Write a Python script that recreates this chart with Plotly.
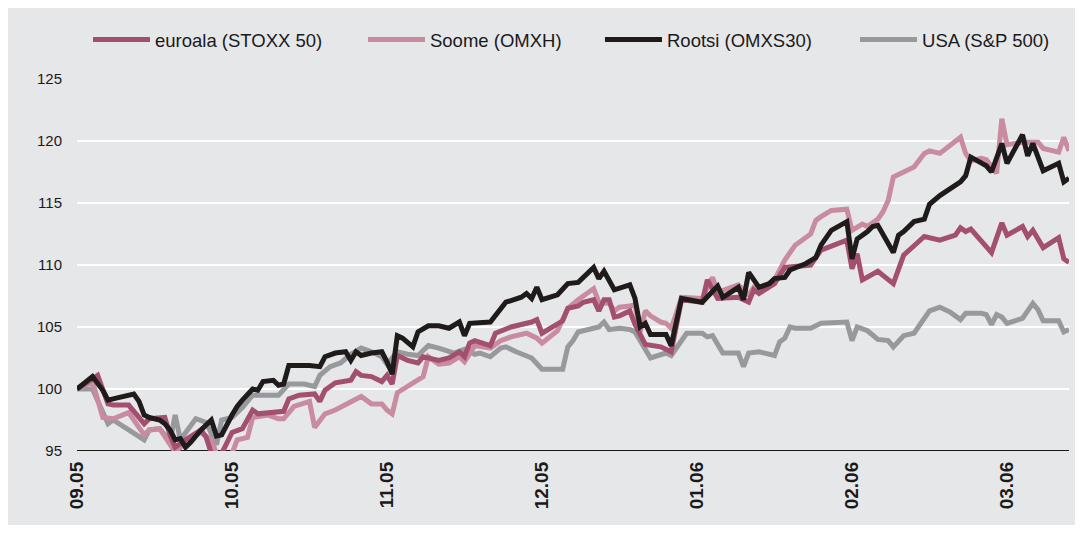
import plotly.graph_objects as go

# x = trading-day index (30 units per month, 0 = start of 09.05)
tick_vals = [0, 30, 60, 90, 120, 150, 180]
tick_text = ["09.05", "10.05", "11.05", "12.05", "01.06", "02.06", "03.06"]

rootsi_x = [0, 3, 5, 6, 8, 11, 12, 13, 14, 16, 17, 18, 19, 20, 21, 22, 24, 26, 27, 28, 30, 31, 32, 34, 35, 36, 38, 39, 40, 41, 45, 46, 47, 48, 50, 52, 53, 54, 55, 57, 59, 60, 61, 62, 63, 65, 66, 68, 70, 72, 74, 75, 76, 80, 81, 83, 86, 87, 88, 89, 90, 93, 95, 97, 100, 101, 102, 104, 107, 108, 109, 110, 111, 114, 115, 116, 117, 121, 124, 125, 128, 129, 130, 132, 134, 135, 137, 138, 141, 143, 144, 146, 149, 150, 151, 153, 154, 155, 158, 159, 160, 162, 164, 165, 167, 171, 172, 173, 176, 177, 179, 180, 183, 184, 185, 187, 190, 191, 192]
rootsi_y = [100.0, 101.0, 99.9, 99.1, 99.3, 99.6, 99.0, 97.9, 97.7, 97.5, 97.2, 96.7, 95.9, 96.0, 95.3, 95.7, 96.7, 97.5, 96.2, 96.3, 97.9, 98.6, 99.1, 100.0, 99.9, 100.6, 100.7, 100.3, 100.4, 101.9, 101.9, 101.9, 101.8, 102.6, 102.9, 103.0, 102.3, 103.0, 102.7, 102.9, 103.0, 102.2, 101.2, 104.3, 104.1, 103.4, 104.6, 105.1, 105.1, 104.9, 105.4, 104.3, 105.3, 105.4, 105.9, 107.0, 107.4, 107.7, 107.3, 108.2, 107.2, 107.6, 108.5, 108.6, 109.8, 108.9, 109.5, 108.0, 108.4, 107.3, 105.0, 105.3, 104.4, 104.4, 103.5, 105.4, 107.3, 107.0, 108.3, 107.4, 108.2, 107.2, 109.4, 108.2, 108.5, 108.9, 109.0, 109.6, 110.1, 110.6, 111.6, 112.8, 113.5, 110.5, 112.1, 112.7, 113.1, 113.2, 111.0, 112.4, 112.7, 113.5, 113.7, 114.9, 115.6, 116.7, 117.2, 118.7, 118.0, 117.5, 119.8, 118.2, 120.5, 118.8, 119.8, 117.6, 118.2, 116.7, 117.0]

euroala_x = [0, 4, 6, 7, 10, 13, 14, 17, 18, 19, 21, 24, 25, 26, 28, 30, 32, 34, 35, 37, 39, 40, 41, 43, 46, 47, 48, 50, 53, 54, 55, 57, 59, 60, 61, 62, 64, 66, 67, 70, 72, 74, 75, 76, 77, 80, 81, 82, 83, 84, 88, 89, 90, 94, 95, 97, 98, 100, 101, 102, 103, 104, 105, 107, 108, 109, 110, 113, 115, 117, 121, 122, 124, 128, 130, 131, 132, 135, 137, 142, 144, 149, 150, 151, 152, 155, 158, 160, 162, 164, 167, 170, 171, 172, 173, 177, 179, 180, 183, 184, 185, 187, 190, 191, 192]
euroala_y = [100.0, 101.1, 98.8, 98.7, 98.7, 97.2, 97.6, 97.7, 96.3, 95.3, 95.9, 96.7, 96.1, 94.8, 94.8, 96.5, 96.8, 98.3, 98.0, 98.1, 98.1, 98.2, 99.2, 99.5, 99.6, 99.0, 99.9, 100.5, 100.7, 101.4, 101.1, 101.0, 100.6, 101.1, 100.4, 102.7, 102.3, 102.1, 102.6, 102.3, 102.5, 103.0, 102.6, 103.7, 103.9, 103.5, 104.5, 104.7, 104.9, 105.0, 105.4, 105.6, 104.5, 105.5, 106.5, 106.7, 107.0, 107.2, 106.3, 107.2, 107.2, 105.8, 105.9, 106.3, 105.2, 104.3, 103.6, 103.4, 103.0, 107.2, 107.0, 108.8, 107.3, 107.4, 107.0, 108.0, 107.7, 108.5, 109.8, 110.0, 111.2, 112.0, 109.7, 110.9, 108.8, 109.5, 108.5, 110.8, 111.6, 112.3, 112.0, 112.4, 113.0, 112.7, 112.9, 111.0, 113.4, 112.4, 113.1, 112.3, 112.8, 111.4, 112.2, 110.5, 110.2]

soome_x = [0, 3, 5, 7, 10, 13, 14, 16, 19, 21, 22, 24, 26, 27, 30, 31, 33, 34, 37, 39, 40, 42, 45, 46, 48, 50, 53, 55, 57, 59, 60, 61, 62, 65, 66, 67, 68, 70, 72, 74, 75, 77, 80, 82, 84, 87, 89, 90, 93, 95, 97, 100, 101, 103, 104, 105, 107, 108, 109, 110, 111, 113, 114, 115, 116, 117, 121, 123, 124, 128, 130, 131, 132, 135, 137, 139, 142, 143, 144, 146, 149, 150, 152, 153, 155, 156, 157, 158, 160, 162, 164, 165, 167, 171, 172, 173, 175, 176, 178, 179, 180, 183, 186, 187, 190, 191, 192]
soome_y = [100.0, 100.6, 97.7, 97.6, 98.1, 96.3, 96.7, 96.8, 94.9, 95.7, 96.1, 96.5, 95.9, 94.8, 94.8, 95.9, 96.1, 97.7, 97.9, 97.6, 97.6, 98.6, 99.0, 96.9, 98.0, 98.3, 99.0, 99.4, 98.8, 98.8, 98.3, 98.0, 99.7, 100.5, 100.7, 101.0, 102.6, 102.0, 102.1, 102.6, 102.2, 103.5, 103.3, 103.9, 104.2, 104.5, 104.1, 103.7, 104.7, 106.5, 107.2, 108.1, 107.0, 106.9, 106.3, 106.6, 106.7, 106.8, 104.6, 106.3, 105.9, 105.4, 105.3, 104.9, 106.1, 107.4, 107.3, 109.0, 107.8, 108.4, 107.6, 108.2, 108.0, 108.8, 110.4, 111.6, 112.5, 113.6, 113.9, 114.4, 114.5, 112.8, 113.3, 113.1, 113.7, 114.3, 115.2, 117.1, 117.5, 117.9, 119.0, 119.2, 119.0, 120.3, 119.0, 118.4, 118.6, 118.5, 117.4, 121.8, 119.7, 119.9, 119.9, 119.4, 119.1, 120.3, 119.2]

usa_x = [0, 3, 6, 7, 10, 13, 14, 16, 18, 19, 20, 23, 25, 27, 28, 30, 32, 34, 36, 39, 41, 44, 46, 47, 49, 51, 53, 55, 57, 59, 60, 62, 64, 66, 67, 68, 70, 73, 75, 77, 78, 80, 82, 83, 85, 88, 90, 94, 95, 96, 97, 101, 102, 103, 105, 107, 108, 109, 110, 111, 114, 115, 118, 121, 122, 123, 125, 128, 129, 130, 132, 135, 136, 137, 138, 139, 142, 144, 149, 150, 151, 153, 155, 157, 158, 160, 162, 164, 165, 167, 169, 171, 172, 175, 176, 177, 178, 179, 180, 183, 185, 186, 187, 190, 191, 192]
usa_y = [100.0, 100.0, 97.2, 97.5, 96.7, 95.9, 96.7, 96.8, 95.8, 97.9, 95.9, 97.6, 97.3, 95.5, 97.5, 97.7, 98.5, 99.5, 99.5, 99.5, 100.4, 100.4, 100.2, 101.1, 101.8, 102.1, 102.8, 103.3, 103.0, 102.6, 102.0, 103.0, 102.8, 102.7, 103.1, 103.5, 103.3, 102.9, 103.2, 102.8, 102.9, 102.6, 103.3, 103.4, 103.0, 102.5, 101.6, 101.6, 103.4, 103.9, 104.6, 105.0, 105.4, 104.8, 104.9, 104.8, 104.6, 103.9, 103.1, 102.5, 102.9, 102.7, 104.5, 104.5, 104.2, 104.3, 102.9, 102.9, 101.8, 102.9, 103.0, 102.7, 103.8, 104.1, 105.0, 104.9, 104.9, 105.3, 105.4, 103.9, 105.0, 104.7, 104.0, 103.9, 103.4, 104.3, 104.5, 105.6, 106.3, 106.6, 106.2, 105.6, 106.1, 106.1, 106.0, 105.2, 106.0, 105.8, 105.3, 105.7, 106.9, 106.4, 105.5, 105.5, 104.6, 104.8]

BG = "#e6e7e9"
# (name, x, y, colour, legend id, legend left position in paper units)
series = [
    ("USA (S&P 500)", usa_x, usa_y, "#98999c", "legend4", 0.7843),
    ("Soome (OMXH)", soome_x, soome_y, "#c98b9f", "legend2", 0.2883),
    ("euroala (STOXX 50)", euroala_x, euroala_y, "#a34f70", "legend", 0.0111),
    ("Rootsi (OMXS30)", rootsi_x, rootsi_y, "#1f1b1b", "legend3", 0.5272),
]

fig = go.Figure()
legend_layouts = {}
for name, xs, ys, col, leg, lx in series:
    fig.add_trace(go.Scatter(x=xs, y=ys, mode="lines", name=name, legend=leg,
                             line=dict(color=col, width=5, shape="linear")))
    legend_layouts[leg] = dict(orientation="h", x=lx, xanchor="left", y=1.105,
                               yanchor="middle", bgcolor="rgba(0,0,0,0)",
                               font=dict(size=18.5), itemwidth=57)

fig.update_layout(
    width=1067, height=517,
    margin=dict(l=69, r=6, t=71, b=74),
    paper_bgcolor=BG, plot_bgcolor=BG,
    font=dict(family="Liberation Sans, Arial, sans-serif", size=15, color="#1a1a1a"),
    showlegend=True,
    xaxis=dict(range=[0, 192], tickmode="array", tickvals=tick_vals, ticktext=tick_text,
               tickangle=-90, showgrid=False, zeroline=False, showline=False,
               ticks="", tickfont=dict(size=19, weight="bold", color="#1a1a1a"),
               ticklabelstandoff=6),
    yaxis=dict(range=[95, 125], tickvals=[95, 100, 105, 110, 115, 120, 125],
               showgrid=True, gridcolor="white", gridwidth=2, zeroline=False,
               showline=False, ticks="", tickfont=dict(size=15), ticklabelstandoff=14),
    **legend_layouts,
)
# bottom baseline at 95
fig.add_shape(type="line", xref="paper", yref="y", x0=0, x1=1, y0=95, y1=95,
              line=dict(color="#1a1a1a", width=2), layer="below")

fig.write_html("out.html")
